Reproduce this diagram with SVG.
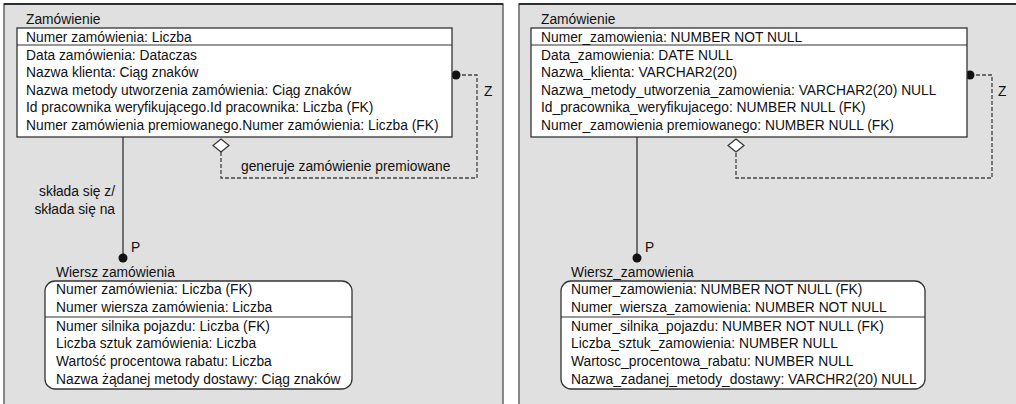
<svg xmlns="http://www.w3.org/2000/svg" width="1016" height="404" viewBox="0 0 1016 404">
<style>
text{font-family:"Liberation Sans",Arial,sans-serif;font-size:13.8px;fill:#111}
.box{fill:#fff;stroke:#333;stroke-width:1.3}
.sep{stroke:#333;stroke-width:1.2}
.solid{stroke:#333;stroke-width:1.3;fill:none}
.dash{stroke:#444;stroke-width:1.3;fill:none;stroke-dasharray:4 2}
.dia{fill:#fff;stroke:#333;stroke-width:1.2}
</style>
<rect x="0" y="0" width="1016" height="404" fill="#fff"/>
<g id="panel-left">
<rect x="4" y="4" width="499" height="410" fill="#e0e0e0" stroke="#666" stroke-width="1.5"/>
<line x1="4" y1="4" x2="503" y2="4" stroke="#111" stroke-width="1.5"/>
</g>
<g id="panel-right">
<rect x="519" y="4" width="510" height="410" fill="#e0e0e0" stroke="#666" stroke-width="1.5"/>
<line x1="519" y1="4" x2="1016" y2="4" stroke="#111" stroke-width="1.5"/>
</g>
<g id="connectors">
<line class="solid" x1="123" y1="137" x2="123" y2="258"/>
<circle cx="123" cy="258" r="4.5" fill="#111"/>
<path class="dash" d="M456 75 H477 V178 H221 V152"/>
<circle cx="456" cy="75" r="4.5" fill="#111"/>
<path class="dia" d="M221 139 L229 145.5 L221 152 L213 145.5 Z"/>
<line class="solid" x1="637" y1="137" x2="637" y2="258"/>
<circle cx="637" cy="258" r="4.5" fill="#111"/>
<path class="dash" d="M970 75 H992 V178 H736 V152"/>
<circle cx="970" cy="75" r="4.5" fill="#111"/>
<path class="dia" d="M736 139 L744 145.5 L736 152 L728 145.5 Z"/>
<text x="115" y="196" text-anchor="end">składa się z/</text>
<text x="115" y="213.5" text-anchor="end">składa się na</text>
<text x="131" y="251.5">P</text>
<text x="484" y="95.5">Z</text>
<text x="241" y="171">generuje zamówienie premiowane</text>
<text x="645" y="251.5">P</text>
<text x="998" y="95.5">Z</text>
</g>
<g id="zamowienie-l">
<text x="26" y="23.5">Zamówienie</text>
<rect class="box" x="17" y="28" width="435" height="109"/>
<line class="sep" x1="17" y1="45" x2="452" y2="45"/>
<text x="26" y="41.5">Numer zamówienia: Liczba</text>
<text x="26" y="60">Data zamówienia: Dataczas</text>
<text x="26" y="77.4">Nazwa klienta: Ciąg znaków</text>
<text x="26" y="94.8">Nazwa metody utworzenia zamówienia: Ciąg znaków</text>
<text x="26" y="112.2">Id pracownika weryfikującego.Id pracownika: Liczba (FK)</text>
<text x="26" y="129.6">Numer zamówienia premiowanego.Numer zamówienia: Liczba (FK)</text>
</g>
<g id="wiersz-l">
<text x="56" y="276.5">Wiersz zamówienia</text>
<rect class="box" x="45" y="281" width="307" height="108" rx="10"/>
<line class="sep" x1="45" y1="317" x2="352" y2="317"/>
<text x="56" y="293.5">Numer zamówienia: Liczba (FK)</text>
<text x="56" y="312">Numer wiersza zamówienia: Liczba</text>
<text x="56" y="330.5">Numer silnika pojazdu: Liczba (FK)</text>
<text x="56" y="348">Liczba sztuk zamówienia: Liczba</text>
<text x="56" y="365.5">Wartość procentowa rabatu: Liczba</text>
<text x="56" y="383.5">Nazwa żądanej metody dostawy: Ciąg znaków</text>
</g>
<g id="zamowienie-r">
<text x="541" y="23.5">Zamówienie</text>
<rect class="box" x="531" y="28" width="436" height="109"/>
<line class="sep" x1="531" y1="45" x2="967" y2="45"/>
<text x="541" y="41.5">Numer_zamowienia: NUMBER NOT NULL</text>
<text x="541" y="60">Data_zamowienia: DATE NULL</text>
<text x="541" y="77.4">Nazwa_klienta: VARCHAR2(20)</text>
<text x="541" y="94.8">Nazwa_metody_utworzenia_zamowienia: VARCHAR2(20) NULL</text>
<text x="541" y="112.2">Id_pracownika_weryfikujacego: NUMBER NULL (FK)</text>
<text x="541" y="129.6">Numer_zamowienia premiowanego: NUMBER NULL (FK)</text>
</g>
<g id="wiersz-r">
<text x="571" y="276.5">Wiersz_zamowienia</text>
<rect class="box" x="561" y="281" width="364" height="108" rx="10"/>
<line class="sep" x1="561" y1="317" x2="925" y2="317"/>
<text x="571" y="293.5">Numer_zamowienia: NUMBER NOT NULL (FK)</text>
<text x="571" y="312">Numer_wiersza_zamowienia: NUMBER NOT NULL</text>
<text x="571" y="330.5">Numer_silnika_pojazdu: NUMBER NOT NULL (FK)</text>
<text x="571" y="348">Liczba_sztuk_zamowienia: NUMBER NULL</text>
<text x="571" y="365.5">Wartosc_procentowa_rabatu: NUMBER NULL</text>
<text x="571" y="383.5">Nazwa_zadanej_metody_dostawy: VARCHR2(20) NULL</text>
</g>
</svg>
